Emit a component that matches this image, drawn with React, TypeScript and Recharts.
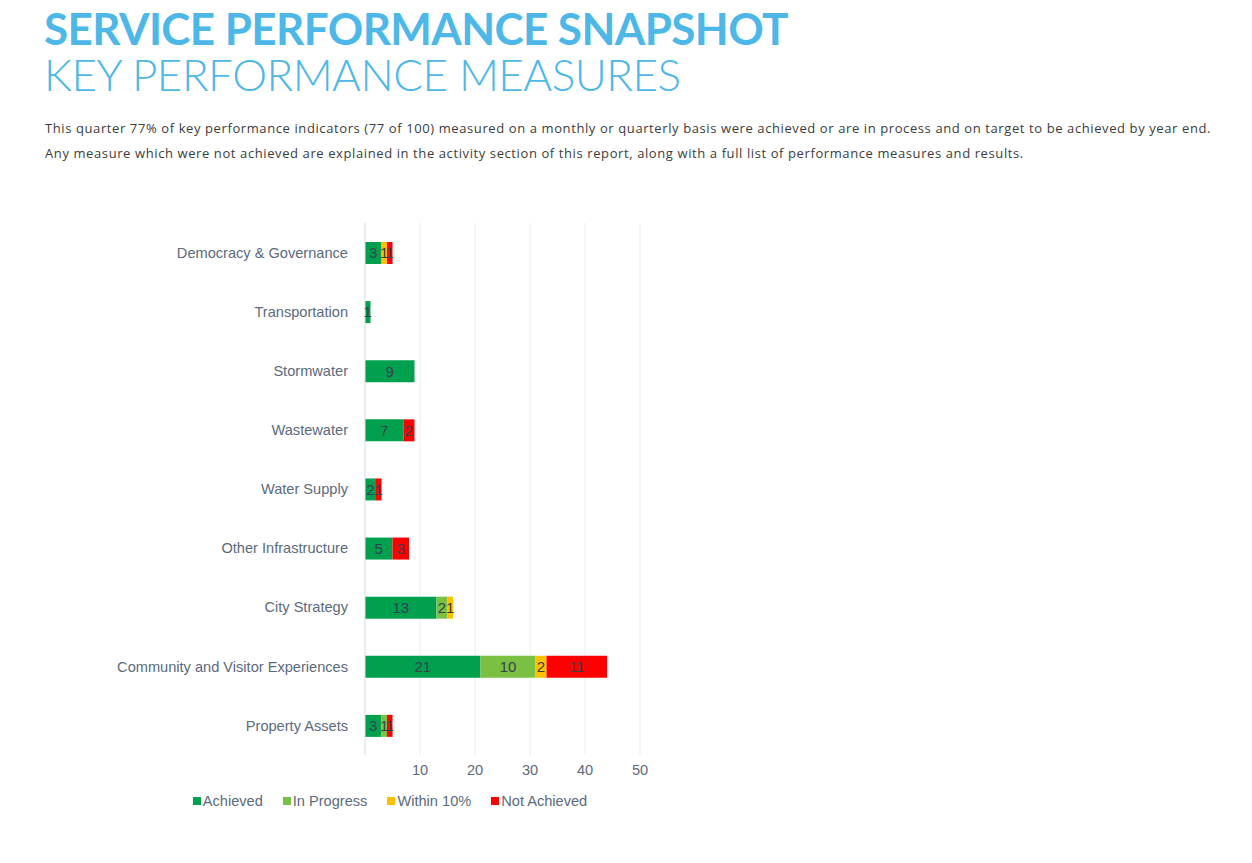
import React from 'react';
import { BarChart, Bar, XAxis, YAxis, CartesianGrid, Legend, LabelList } from 'recharts';

const categories = [
  'Democracy & Governance',
  'Transportation',
  'Stormwater',
  'Wastewater',
  'Water Supply',
  'Other Infrastructure',
  'City Strategy',
  'Community and Visitor Experiences',
  'Property Assets',
];
const achieved = [3, 1, 9, 7, 2, 5, 13, 21, 3];
const inProgress = [0, 0, 0, 0, 0, 0, 2, 10, 1];
const within10 = [1, 0, 0, 0, 0, 0, 1, 2, 0];
const notAchieved = [1, 0, 0, 2, 1, 3, 0, 11, 1];
const xTicks = [0, 10, 20, 30, 40, 50];

const seriesDefs = [
  { key: 'achieved', name: 'Achieved', color: '#00A04F' },
  { key: 'inProgress', name: 'In Progress', color: '#7AC143' },
  { key: 'within10', name: 'Within 10%', color: '#FFC000' },
  { key: 'notAchieved', name: 'Not Achieved', color: '#FF0000' },
];

const data = categories.map((c, i) => ({
  name: c,
  achieved: achieved[i],
  inProgress: inProgress[i],
  within10: within10[i],
  notAchieved: notAchieved[i],
}));

const axisColor = '#5b6a7c';
const font = '"Liberation Sans", Arial, sans-serif';

const LegendContent = () => (
  <div style={{ display: 'flex', justifyContent: 'center', height: 24, alignItems: 'center', fontFamily: font, fontSize: 14.6, color: axisColor }}>
    {seriesDefs.map((s, i) => (
      <div key={s.key} style={{ display: 'flex', alignItems: 'center', marginRight: i === seriesDefs.length - 1 ? 0 : 20 }}>
        <span style={{ display: 'inline-block', width: 8, height: 8, background: s.color, marginRight: 2 }} />
        <span>{s.name}</span>
      </div>
    ))}
  </div>
);

export default function App() {
  return (
    <div style={{ position: 'absolute', left: 0, top: 0, width: 1252, height: 863, background: '#fff', overflow: 'hidden' }}>
      <div style={{ position: 'absolute', left: 44, top: 8, fontFamily: 'Lato, sans-serif', fontWeight: 700, fontSize: 44, color: '#4DB8E8', whiteSpace: 'nowrap', letterSpacing: -0.6, lineHeight: '40px' }}>
        SERVICE PERFORMANCE SNAPSHOT
      </div>
      <div style={{ position: 'absolute', left: 44, top: 54, fontFamily: 'Lato, sans-serif', fontWeight: 300, fontSize: 44, color: '#4DB8E8', whiteSpace: 'nowrap', letterSpacing: -0.5, lineHeight: '40px' }}>
        KEY PERFORMANCE MEASURES
      </div>
      <div style={{ position: 'absolute', left: 45, top: 116, fontFamily: '"Open Sans", sans-serif', fontSize: 13, color: '#3c3c3c', whiteSpace: 'nowrap', lineHeight: '25px', letterSpacing: 0.6 }}>
        <div>This quarter 77% of key performance indicators (77 of 100) measured on a monthly or quarterly basis were achieved or are in process and on target to be achieved by year end.</div>
        <div>Any measure which were not achieved are explained in the activity section of this report, along with a full list of performance measures and results.</div>
      </div>
      <div style={{ position: 'absolute', left: 0, top: 200 }}>
        <BarChart
          width={700}
          height={620}
          data={data}
          layout="vertical"
          margin={{ top: 23, right: 60, bottom: 5, left: 0 }}
          barSize={22}
        >
          <CartesianGrid horizontal={false} stroke="#ececec" />
          <XAxis
            type="number"
            domain={[0, 50]}
            ticks={xTicks}
            tickFormatter={(v: number) => (v === 0 ? '' : String(v))}
            axisLine={false}
            tickLine={false}
            tickMargin={4}
            height={36}
            tick={{ fill: axisColor, fontSize: 14.6, fontFamily: font }}
          />
          <YAxis
            type="category"
            dataKey="name"
            width={365}
            axisLine={{ stroke: '#e4e4e4' }}
            tickLine={false}
            tickMargin={11}
            interval={0}
            tick={{ fill: axisColor, fontSize: 14.6, fontFamily: font }}
          />
          <Legend
            verticalAlign="bottom"
            content={<LegendContent />}
            wrapperStyle={{ left: 190, width: 400, top: 589, height: 24 }}
          />
          {seriesDefs.map((s) => (
            <Bar key={s.key} dataKey={s.key} name={s.name} stackId="a" fill={s.color} isAnimationActive={false}>
              <LabelList
                dataKey={s.key}
                position="center"
                formatter={(v: any) => (v ? v : '')}
                style={{ fill: '#36414e', fontSize: 15, fontFamily: font }}
              />
            </Bar>
          ))}
        </BarChart>
      </div>
    </div>
  );
}
